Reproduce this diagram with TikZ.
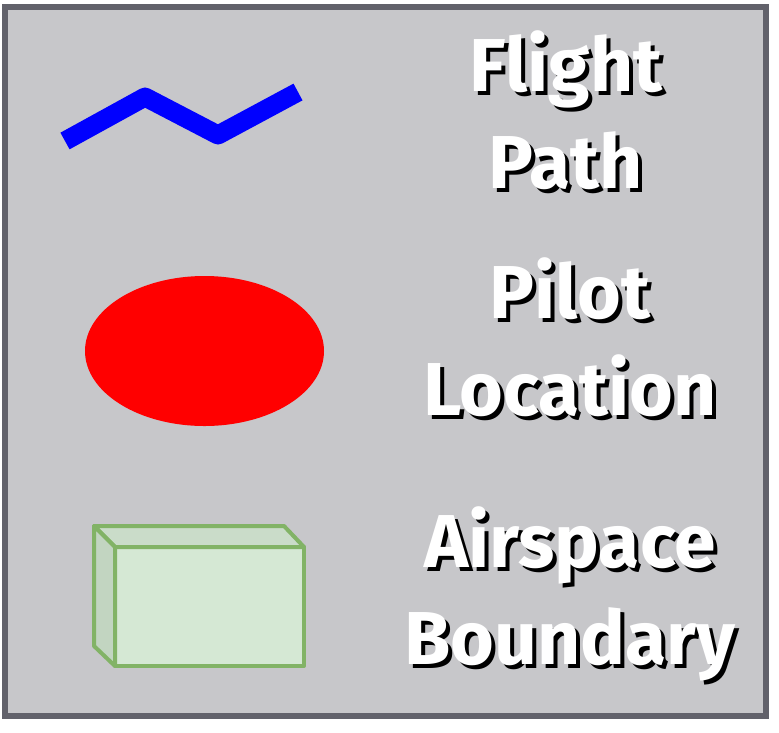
\documentclass[tikz,border=0pt]{standalone}
\usepackage{fontspec}
\setmainfont{Fira Sans}
\usetikzlibrary{shapes.geometric, calc}
\definecolor{cpanel}{HTML}{C7C7CA}
\definecolor{cframe}{HTML}{62626B}
\definecolor{cpath}{HTML}{0000FF}
\definecolor{cpilot}{HTML}{FF0000}
\definecolor{cboxline}{HTML}{82B366}
\definecolor{cboxfill}{HTML}{D5E8D4}
\definecolor{cboxtop}{HTML}{CADCC9}
\definecolor{cboxside}{HTML}{C2D5C1}
\tikzset{
  every picture/.style={x=1pt, y=-1pt},
  legendtext/.style={font=\bfseries\fontsize{75}{97}\selectfont, align=center, text=white, inner sep=0pt},
  boxface/.style={draw=cboxline, line width=4pt, line join=round},
}
% white word with a black drop shadow behind it
\newcommand{\shadowed}[1]{%
  \makebox[0pt][l]{\hspace{4pt}\raisebox{-4pt}{\textcolor{black}{#1}}}#1}

\begin{document}
\begin{tikzpicture}
  \useasboundingbox (0,0) rectangle (779,732);
  \draw[cframe, line width=6pt, fill=cpanel] (5,7) rectangle (766,716);

  % flight path
  \coordinate (fp1) at (65,141);
  \coordinate (fp2) at (145,97);
  \coordinate (fp3) at (218,135);
  \coordinate (fp4) at (298,92);
  \draw[cpath, line width=19pt, line join=round] (fp1) -- (fp2) -- (fp3) -- (fp4);

  % pilot location
  \node[ellipse, fill=cpilot, minimum width=239pt, minimum height=150pt, inner sep=0pt] (pilot) at (204.5,351) {};

  % airspace boundary
  \node[boxface, fill=cboxfill, minimum width=189pt, minimum height=119pt, inner sep=0pt, outer sep=0pt] (airspace) at (209.5,606.5) {};
  \draw[boxface, fill=cboxtop] (airspace.north west) -- ++(-21,-21) -- ++(190,0) -- (airspace.north east) -- cycle;
  \draw[boxface, fill=cboxside] (airspace.north west) -- ++(-21,-21) -- ++(0,120) -- (airspace.south west) -- cycle;

  \node[legendtext] (flight) at (566,112) {\shadowed{Flight}\\\shadowed{Path}};
  \node[legendtext] (loc) at (570,339) {\shadowed{Pilot}\\\shadowed{Location}};
  \node[legendtext] (bound) at (570,596) {\shadowed{Airspace}\\\shadowed{Boundary}};
\end{tikzpicture}
\end{document}
